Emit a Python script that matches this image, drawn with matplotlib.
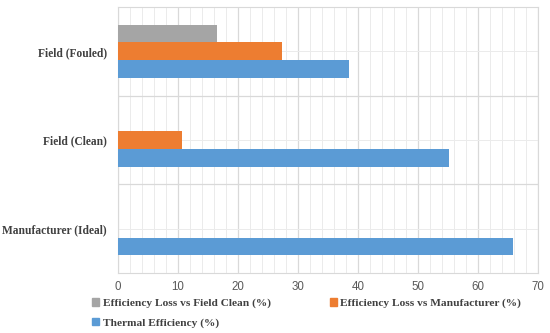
import numpy as np
import matplotlib
matplotlib.use("Agg")
from matplotlib import pyplot as plt
from matplotlib.patches import Patch

categories = ['Manufacturer (Ideal)', 'Field (Clean)', 'Field (Fouled)']
thermal_eff = [65.8, 55.2, 38.5]
loss_vs_manuf = [0, 10.7, 27.3]
loss_vs_clean = [0, 0, 16.5]

c_blue = '#5b9bd5'
c_orange = '#ed7d31'
c_gray = '#a5a5a5'

fig = plt.figure(figsize=(5.5, 3.33), dpi=100)
ax = fig.add_axes([0.2145, 0.18, 0.7635, 0.799])

y = np.arange(len(categories))
h = 0.2
ax.barh(y - h, thermal_eff, height=h, color=c_blue, zorder=3)
ax.barh(y, loss_vs_manuf, height=h, color=c_orange, zorder=3)
ax.barh(y + h, loss_vs_clean, height=h, color=c_gray, zorder=3)

ax.set_xlim(0, 70)
ax.set_ylim(-0.5, 2.5)
ax.set_xticks(np.arange(0, 71, 10))
ax.set_xticks(np.arange(0, 71, 2), minor=True)
ax.set_yticks(y)
ax.set_yticklabels(categories, fontfamily='Liberation Serif', fontweight='bold', fontsize=8.3, color='#404040')
ax.set_yticks([0.5, 1.5], minor=True)

ax.grid(which='major', axis='x', color='#d9d9d9', lw=0.9, zorder=0)
ax.grid(which='minor', axis='x', color='#ebebeb', lw=0.7, zorder=0)
ax.grid(which='major', axis='y', color='#ebebeb', lw=0.7, zorder=0)
ax.grid(which='minor', axis='y', color='#d9d9d9', lw=0.9, zorder=0)

ax.tick_params(which='both', length=0)
ax.tick_params(axis='x', labelsize=8.3, labelcolor='#595959', pad=6)
ax.tick_params(axis='y', pad=8)
for lab in ax.get_xticklabels():
    lab.set_fontfamily('Liberation Sans')
for s in ax.spines.values():
    s.set_color('#d9d9d9')

handles = [Patch(color=c_gray, label='Efficiency Loss vs Field Clean (%)'),
           Patch(color=c_blue, label='Thermal Efficiency (%)'),
           Patch(color=c_orange, label='Efficiency Loss vs Manufacturer (%)')]
fig.legend(handles=handles, ncol=2, loc='upper left', bbox_to_anchor=(0.168, 0.104),
           frameon=False, handlelength=0.6, handleheight=0.6, handletextpad=0.3,
           columnspacing=5.2, labelspacing=0.85, borderaxespad=0, borderpad=0,
           prop={'family': 'Liberation Serif', 'weight': 'bold', 'size': 8.2},
           labelcolor='#404040')

fig.savefig('out.png', dpi=100)
